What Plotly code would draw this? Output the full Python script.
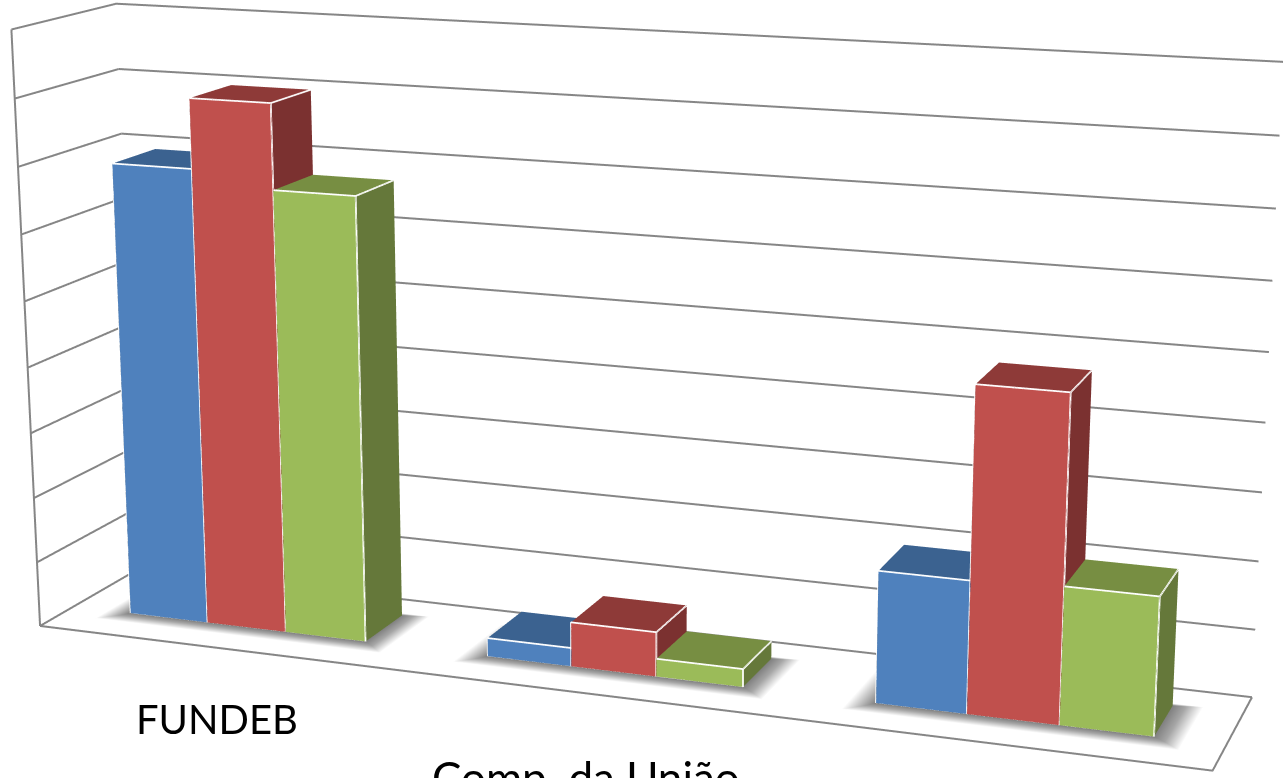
import plotly.graph_objects as go

categories = ["FUNDEB", "Comp. da União"]
series_a = [6.94, 0.28, 1.94]
series_b = [7.98, 0.67, 4.72]
series_c = [6.71, 0.27, 2.00]
z_ticks = list(range(0, 10))

front_colors = ["#4F81BD", "#C0504D", "#9BBB59"]
top_colors = ["#3B6290", "#8E3A38", "#778E42"]
side_colors = ["#335478", "#7B3130", "#65783A"]
GRID = "#868686"

W, H = 1284, 2668
OFFSET = 945
bar_w = 1 / 4.5
y0, y1 = 0.33, 0.76
FLAT = dict(ambient=1, diffuse=0, specular=0, fresnel=0, roughness=1)

fig = go.Figure()

# walls and floor
gx, gy, gz = [], [], []
for t in z_ticks:
    gx += [0, 0, 3, None]; gy += [0, 1, 1, None]; gz += [t, t, t, None]
gx += [0, 0, None, 0, 3, 3]; gy += [0, 0, None, 0, 0, 1]; gz += [0, z_ticks[-1], None, 0, 0, 0]
fig.add_trace(go.Scatter3d(x=gx, y=gy, z=gz, mode="lines", line=dict(color=GRID, width=4), hoverinfo="skip", showlegend=False))


def ring(a, b, col_a, col_b):
    """Shaded band on the floor between two rectangles (x0, x1, y0, y1)."""
    sx = [a[0], a[1], a[1], a[0], b[0], b[1], b[1], b[0]]
    sy = [a[2], a[2], a[3], a[3], b[2], b[2], b[3], b[3]]
    ii, jj, kk = [], [], []
    for n in range(4):
        m = (n + 1) % 4
        ii += [n, n]; jj += [m, m + 4]; kk += [m + 4, n + 4]
    fig.add_trace(go.Mesh3d(x=sx, y=sy, z=[0] * 8, i=ii, j=jj, k=kk,
                            vertexcolor=[col_a] * 4 + [col_b] * 4,
                            lighting=FLAT, hoverinfo="skip", showscale=False))


# soft floor shadows
for c in range(3):
    xa = c + 0.5 - 1.5 * bar_w
    xb = c + 0.5 + 1.5 * bar_w
    inner = (xa, xb, y0, y1)
    mid = (xa - 0.02, xb + 0.03, y0 - 0.05, y1 + 0.01)
    outer = (xa - 0.065, xb + 0.07, y0 - 0.13, y1 + 0.03)
    ring(inner, mid, "#808080", "#a6a6a6")
    ring(mid, outer, "#a6a6a6", "#ffffff")

# bars
for s, vals in enumerate([series_a, series_b, series_c]):
    for c, v in enumerate(vals):
        xa = c + 0.5 - 1.5 * bar_w + s * bar_w
        xb = xa + bar_w
        bx = [xa, xb, xb, xa, xa, xb, xb, xa]
        by = [y0, y0, y1, y1, y0, y0, y1, y1]
        bz = [0, 0, 0, 0, v, v, v, v]
        fig.add_trace(go.Mesh3d(x=bx, y=by, z=bz,
            i=[0, 0, 1, 1, 4, 4, 3, 3, 0, 0, 2, 2],
            j=[1, 5, 2, 6, 5, 6, 2, 6, 3, 7, 3, 1],
            k=[5, 4, 6, 5, 6, 7, 6, 7, 7, 4, 1, 0],
            facecolor=[front_colors[s]] * 2 + [side_colors[s]] * 2 + [top_colors[s]] * 2 + [side_colors[s]] * 6,
            flatshading=True, lighting=FLAT, hoverinfo="skip", showscale=False))
        fig.add_trace(go.Scatter3d(
            x=[xa, xb, xb, xa, xa, None, xb, xb],
            y=[y0, y0, y0, y0, y0, None, y0, y1],
            z=[0, 0, v, v, 0, None, v, v],
            mode="lines", line=dict(color="#ffffff", width=3.5), hoverinfo="skip", showlegend=False))

hidden = dict(visible=False, showgrid=False, showline=False, zeroline=False, showticklabels=False,
              showspikes=False, showbackground=False, title="")


def paper_y(py):
    return 1 - (py + OFFSET) / H


label_px = [(217, 719), (586, 777)]
label_size = [40, 44]
annotations = [dict(text=t, x=p[0] / W, y=paper_y(p[1]), xref="paper", yref="paper", showarrow=False,
                    xanchor="center", yanchor="middle", font=dict(family="Lato", size=sz, color="#000000"))
               for t, p, sz in zip(categories, label_px, label_size)]

fig.update_layout(
    width=W, height=H, margin=dict(l=0, r=0, t=0, b=0), showlegend=False,
    paper_bgcolor="white", annotations=annotations,
    scene=dict(
        domain=dict(x=[0, 1], y=[0, 1]),
        xaxis=dict(range=[0, 3], **hidden),
        yaxis=dict(range=[0, 1], **hidden),
        zaxis=dict(range=[0, 9], **hidden),
        aspectmode="manual", aspectratio=dict(x=1, y=0.1733, z=0.5094),
        camera=dict(eye=dict(x=0.8755, y=-2.3625, z=0.6119),
                    center=dict(x=0.0163, y=-0.0065, z=-0.021),
                    up=dict(x=0, y=0, z=1),
                    projection=dict(type="perspective")),
    ),
)

post = f"""
document.documentElement.style.overflow='hidden';
document.body.style.overflow='hidden';
document.body.style.margin='0';
var gd=document.getElementById('{{plot_id}}');
gd.style.position='absolute';gd.style.left='0';gd.style.top='-{OFFSET}px';
"""
fig.write_html("out.html", post_script=post)
